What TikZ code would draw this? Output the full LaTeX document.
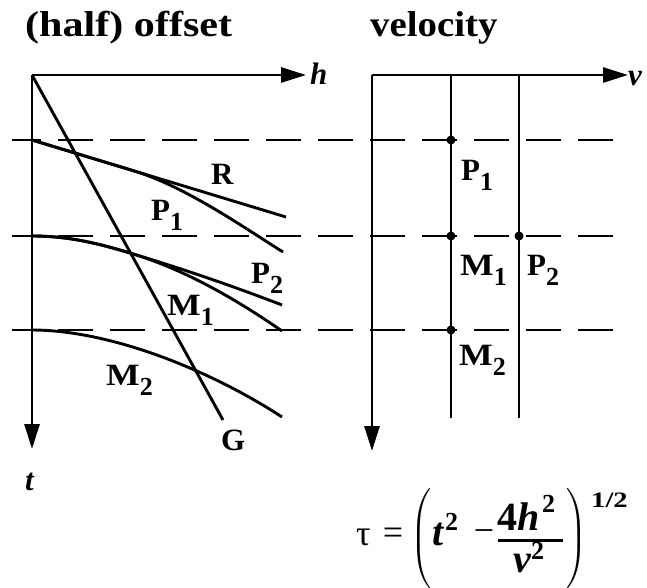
\documentclass[tikz,border=0pt]{standalone}
\usepackage{fontspec}
\usepackage{graphicx}
\setmainfont{Liberation Serif}
\usetikzlibrary{arrows.meta}
\newcommand\sbx[1]{\raisebox{-10pt}{\fontsize{26}{26}\selectfont #1}}
\newcommand\wideM{\scalebox{1.15}[1]{M}}
\newcommand\bigparen[1]{\scalebox{2.4}{\nulldelimiterspace=0pt$\left#1\vrule height 22.5pt depth 17.5pt width 0pt\right.$}}
\begin{document}
\begin{tikzpicture}[x=1pt,y=-1pt,
  axis/.style={line width=2.8pt,-{Triangle[length=25pt,width=15pt]}},
  curve/.style={line width=2.9pt},
  guide/.style={line width=2.1pt,dash pattern=on 35pt off 17pt,dash phase=6pt},
  vline/.style={line width=2.3pt},
  lab/.style={anchor=base west,inner sep=0pt,font=\fontsize{31}{31}\selectfont\bfseries},
  ilab/.style={anchor=base west,inner sep=0pt,font=\fontsize{31}{31}\selectfont\bfseries\itshape},
  dot/.style={circle,fill=black,inner sep=0pt,minimum size=9pt},
  fm/.style={inner sep=0pt,font=\fontsize{36}{36}\selectfont},
  fmb/.style={inner sep=0pt,anchor=base west,font=\fontsize{40}{40}\selectfont\bfseries\itshape},
  fms/.style={inner sep=0pt,anchor=base west,font=\fontsize{26}{26}\selectfont\bfseries}]
\useasboundingbox (0,0) rectangle (647,588);

% titles
\node[anchor=base west,inner sep=0pt] (title1) at (25,37)
  {\scalebox{1.17}[1]{\fontsize{36}{36}\selectfont\bfseries (half) offset}};
\node[anchor=base west,inner sep=0pt] (title2) at (370,37)
  {\scalebox{1.08}[1]{\fontsize{36}{36}\selectfont\bfseries velocity}};

% dashed guides
\coordinate (d1a) at (12,140); \coordinate (d1b) at (613,140);
\coordinate (d2a) at (12,236); \coordinate (d2b) at (613,236);
\coordinate (d3a) at (12,330); \coordinate (d3b) at (613,330);
\draw[guide] (d1a) -- (d1b);
\draw[guide] (d2a) -- (d2b);
\draw[guide] (d3a) -- (d3b);

% left panel axes
\coordinate (O1) at (32,75);
\coordinate (hend) at (306,75);
\coordinate (tend) at (32,449);
\draw[axis] (O1) -- (hend);
\draw[axis] (O1) -- (tend);
\node[ilab] (hlab) at (310,85) {h};
\node[ilab] (tlab) at (25,490) {t};

% curves
\coordinate (r0) at (32,140);
\coordinate (rm) at (133,170.6);
\coordinate (rend) at (286,217);
\coordinate (p1end) at (283,252);
\draw[curve] (r0) -- (rend);
\draw[curve] (r0) -- (rm) .. controls (185,186.4) and (240,225) .. (p1end);

\coordinate (s0) at (32,236);
\coordinate (sm) at (130,253);
\coordinate (p2end) at (282,305);
\coordinate (m1end) at (282,331);
\draw[curve] (s0) .. controls (70,236) and (100,244) .. (sm)
  .. controls (180,268) and (230,285) .. (p2end);
\draw[curve] (s0) .. controls (70,236) and (100,244) .. (sm)
  .. controls (180,268) and (230,295) .. (m1end);

\coordinate (u0) at (32,330);
\coordinate (m2end) at (282,417);
\draw[curve] (u0) .. controls (110,330) and (210,370) .. (m2end);

\coordinate (gend) at (223,420);
\draw[curve] (O1) -- (gend);

% left labels
\node[lab] (Rl) at (211,185) {R};
\node[lab] (P1l) at (151,220) {P\sbx{1}};
\node[lab] (P2l) at (251,283) {P\sbx{2}};
\node[lab] (M1l) at (167,315) {\wideM\sbx{1}};
\node[lab] (M2l) at (106,385) {\wideM\sbx{2}};
\node[lab] (Gl) at (221,450) {G};

% right panel
\coordinate (O2) at (372,75);
\coordinate (vend) at (628,75);
\coordinate (t2end) at (372,451);
\draw[axis] (O2) -- (vend);
\draw[axis] (O2) -- (t2end);
\node[ilab] (vlab) at (628,86) {v};

\coordinate (va) at (451,75); \coordinate (vb) at (451,418);
\coordinate (wa) at (519,75); \coordinate (wb) at (519,418);
\draw[vline] (va) -- (vb);
\draw[vline] (wa) -- (wb);

\node[dot] (dp1) at (451,140) {};
\node[dot] (dm1) at (451,236) {};
\node[dot] (dp2) at (519,236) {};
\node[dot] (dm2) at (451,330) {};

\node[lab] (P1r) at (461,180) {P\sbx{1}};
\node[lab] (M1r) at (460,275) {\wideM\sbx{1}};
\node[lab] (P2r) at (527,275) {P\sbx{2}};
\node[lab] (M2r) at (459,365) {\wideM\sbx{2}};

% formula
\node[fm,anchor=base west] (ftau) at (356,545) {τ};
\node[fm] (feq) at (393,536) {=};
\node[inner sep=0pt] (flp) at (421,538.5) {\bigparen(};
\node[fmb] (ft) at (432,545) {t};
\node[fms] (ft2) at (445,530) {2};
\node[fm] (fminus) at (484,536) {−};
\node[fmb] (fnum) at (497,530) {\textup{4}\textit{h}};
\node[fms] (fnum2) at (542,512) {2};
\coordinate (fbara) at (498,540);
\coordinate (fbarb) at (563,540);
\draw[line width=3pt] (fbara) -- (fbarb);
\node[fmb] (fden) at (513,572) {v};
\node[fms] (fden2) at (531,559) {2};
\node[inner sep=0pt] (frp) at (577,538.5) {\bigparen)};
\node[fms] (fexp) at (591,507) {\scalebox{1.3}[1]{\fontsize{22}{22}\selectfont 1/2}};
\end{tikzpicture}
\end{document}
